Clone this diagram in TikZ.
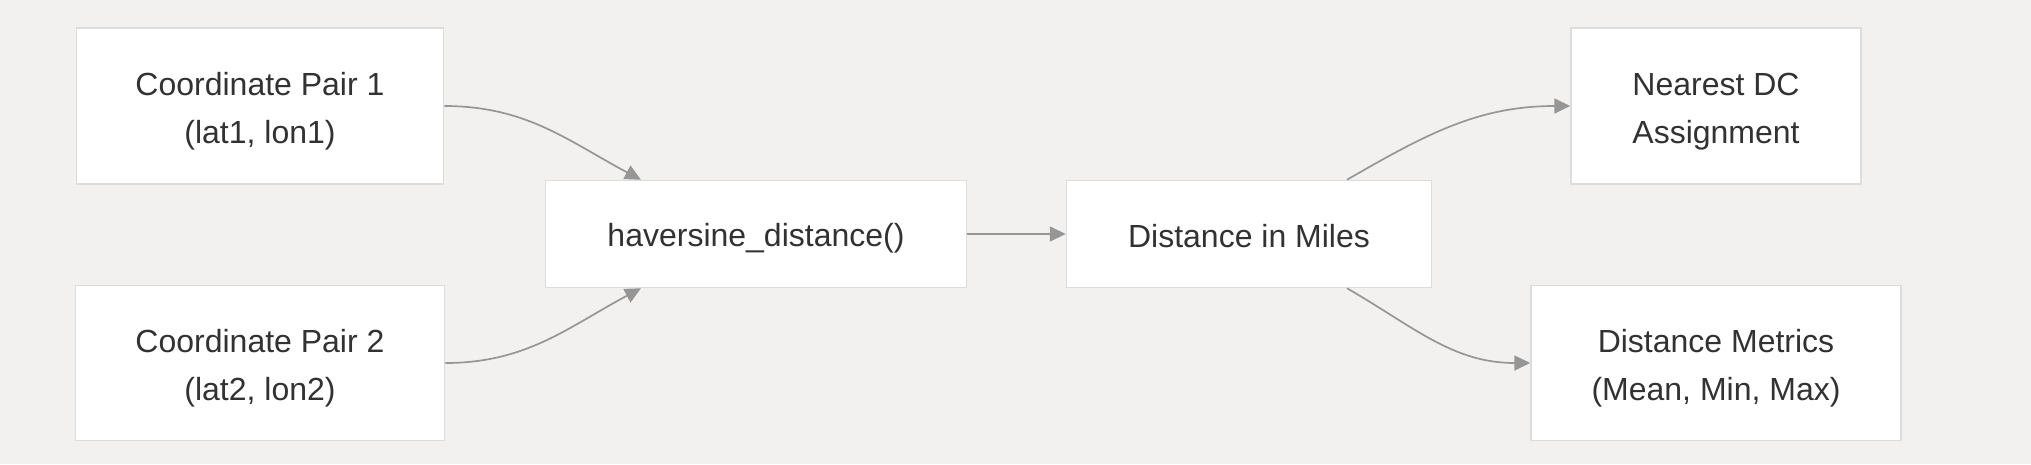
\documentclass[tikz,border=0pt]{standalone}
\usepackage{fontspec}
\setmainfont{Liberation Sans}
\usetikzlibrary{arrows.meta}
\definecolor{bgc}{RGB}{242,241,239}
\definecolor{boxline}{RGB}{220,220,220}
\definecolor{edgec}{RGB}{150,150,150}
\definecolor{txt}{RGB}{50,50,50}
\newcommand{\lowtext}[1]{\raisebox{-4pt}[\height][\depth]{#1}}
\begin{document}
\begin{tikzpicture}[x=1pt,y=1pt,>={Triangle[length=16pt,width=15pt]},
  box/.style={draw=boxline,line width=1.5pt,fill=white,text=txt,align=center,
    inner sep=0pt,font=\fontsize{32}{48}\selectfont},
  flow/.style={->,draw=edgec,line width=1.7pt}]
  \fill[bgc] (0,0) rectangle (2031,-464);
  \useasboundingbox (0,0) rectangle (2031,-464);
  \node[box,minimum width=367pt,minimum height=156pt] (cp1) at (260,-106) {\strut Coordinate Pair 1\\(lat1, lon1)};
  \node[box,minimum width=369pt,minimum height=155pt] (cp2) at (260,-363) {\strut Coordinate Pair 2\\(lat2, lon2)};
  \node[box,minimum width=421pt,minimum height=107pt] (hav) at (756,-234) {\lowtext{haversine\_distance()}};
  \node[box,minimum width=365pt,minimum height=107pt] (dist) at (1249,-234) {\lowtext{\strut Distance in Miles}};
  \node[box,minimum width=290pt,minimum height=156pt] (near) at (1716,-106) {\strut Nearest DC\\Assignment};
  \node[box,minimum width=370pt,minimum height=155pt] (metr) at (1716,-363) {\strut Distance Metrics\\(Mean, Min, Max)};
  % edges
  \draw[flow] (cp1.east) to[out=0,in=152] ([xshift=-115pt]hav.north);
  \draw[flow] (cp2.east) to[out=0,in=-152] ([xshift=-115pt]hav.south);
  \draw[flow] (hav) -- (dist);
  \draw[flow] ([xshift=98pt]dist.north) to[out=30,in=180] (near.west);
  \draw[flow] ([xshift=98pt]dist.south) to[out=-30,in=180] (metr.west);
\end{tikzpicture}
\end{document}
